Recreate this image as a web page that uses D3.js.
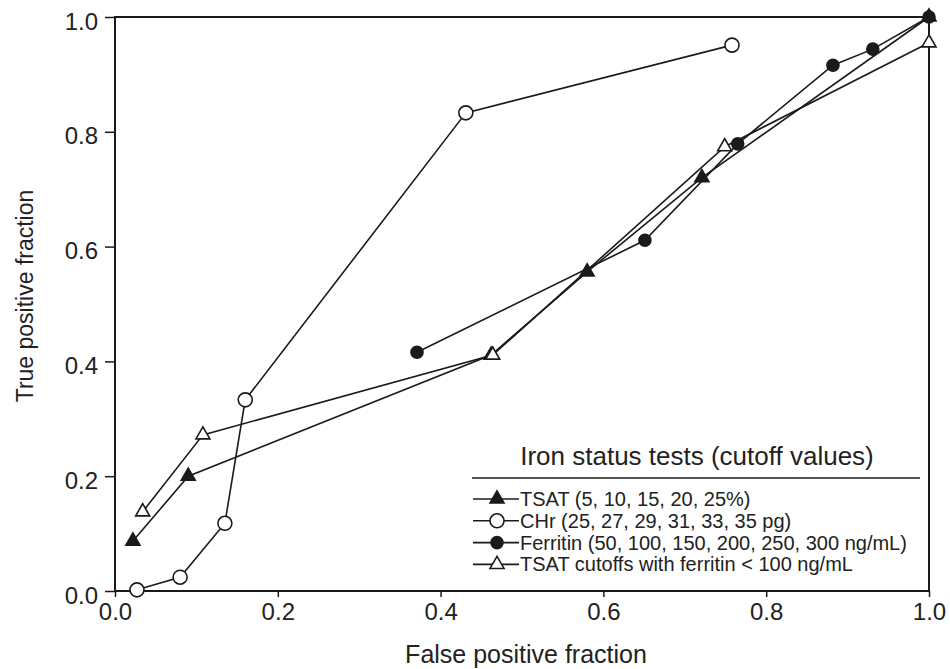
<!DOCTYPE html>
<html>
<head>
<meta charset="utf-8">
<script src="https://cdn.jsdelivr.net/npm/d3@7"></script>
<style>
  body { margin: 0; background: #fff; }
  svg { display: block; font-family: "Liberation Sans", Arial, sans-serif; }
  .tick text { fill: #222; }
</style>
</head>
<body>
<svg width="950" height="669"></svg>
<script>
// ROC points (false positive fraction, true positive fraction)
const tsatFpf = [0.022, 0.09, 0.462, 0.58, 0.721, 1.0];
const tsatTpf = [0.087, 0.2, 0.411, 0.556, 0.72, 1.0];
const chrFpf = [0.027, 0.08, 0.135, 0.16, 0.431, 0.758];
const chrTpf = [0.002, 0.024, 0.118, 0.333, 0.833, 0.951];
const ferritinFpf = [0.371, 0.651, 0.765, 0.882, 0.931, 1.0];
const ferritinTpf = [0.416, 0.611, 0.779, 0.916, 0.944, 1.0];
const tsatLowFerFpf = [0.034, 0.108, 0.464, 0.749, 1.0];
const tsatLowFerTpf = [0.138, 0.272, 0.411, 0.774, 0.955];

const seriesNames = [
  'TSAT (5, 10, 15, 20, 25%)',
  'CHr (25, 27, 29, 31, 33, 35 pg)',
  'Ferritin (50, 100, 150, 200, 250, 300 ng/mL)',
  'TSAT cutoffs with ferritin < 100 ng/mL'
];
const xTicks = [0, 0.2, 0.4, 0.6, 0.8, 1.0];
const yTicks = [0, 0.2, 0.4, 0.6, 0.8, 1.0];

(function (d3) {
  'use strict';

  const svg = d3.select('svg');
  const ink = '#1a1a1a';

  const xScale = d3.scaleLinear().domain([0, 1]).range([115, 929]);
  const yScale = d3.scaleLinear().domain([0, 1]).range([591, 17]);

  const zip = (xs, ys) => xs.map((x, i) => ({ x, y: ys[i] }));

  const series = [
    { name: seriesNames[0], marker: 'triangle', filled: true, points: zip(tsatFpf, tsatTpf) },
    { name: seriesNames[2], marker: 'circle', filled: true, points: zip(ferritinFpf, ferritinTpf) },
    { name: seriesNames[1], marker: 'circle', filled: false, points: zip(chrFpf, chrTpf) },
    { name: seriesNames[3], marker: 'triangle', filled: false, points: zip(tsatLowFerFpf, tsatLowFerTpf) }
  ];

  // frame
  svg.append('rect')
    .attr('x', xScale(0))
    .attr('y', yScale(1))
    .attr('width', xScale(1) - xScale(0))
    .attr('height', yScale(0) - yScale(1))
    .attr('fill', 'none')
    .attr('stroke', ink)
    .attr('stroke-width', 2);

  const xAxis = d3.axisBottom(xScale)
    .tickValues(xTicks)
    .tickFormat(d3.format('.1f'))
    .tickSize(6)
    .tickPadding(6);

  const yAxis = d3.axisLeft(yScale)
    .tickValues(yTicks)
    .tickFormat(d3.format('.1f'))
    .tickSize(10)
    .tickPadding(7);

  const xAxisG = svg.append('g')
    .attr('transform', `translate(0,${yScale(0)})`)
    .call(xAxis);
  xAxisG.select('.domain').remove();
  xAxisG.selectAll('.tick line').attr('stroke', ink).attr('stroke-width', 1.5);
  xAxisG.selectAll('.tick text')
    .attr('font-size', 24)
    .attr('font-family', '"Liberation Sans", Arial, sans-serif');

  const yAxisG = svg.append('g')
    .attr('transform', `translate(${xScale(0)},0)`)
    .call(yAxis);
  yAxisG.select('.domain').remove();
  yAxisG.selectAll('.tick line').attr('stroke', ink).attr('stroke-width', 1.5);
  yAxisG.selectAll('.tick text')
    .attr('font-size', 24)
    .attr('dy', '0.5em')
    .attr('font-family', '"Liberation Sans", Arial, sans-serif');

  svg.append('text')
    .attr('x', 526)
    .attr('y', 663)
    .attr('text-anchor', 'middle')
    .attr('font-size', 25)
    .attr('fill', '#222')
    .text('False positive fraction');

  svg.append('text')
    .attr('transform', 'translate(33,296) rotate(-90)')
    .attr('text-anchor', 'middle')
    .attr('font-size', 23)
    .attr('fill', '#222')
    .text('True positive fraction');

  const line = d3.line()
    .x(d => xScale(d.x))
    .y(d => yScale(d.y));

  const triangle = d3.symbol().type(d3.symbolTriangle).size(85);

  const drawMarker = (g, s) => {
    if (s.marker === 'circle') {
      g.append('circle')
        .attr('r', s.filled ? 6 : 7)
        .attr('fill', s.filled ? ink : '#fff')
        .attr('stroke', ink)
        .attr('stroke-width', 1.6);
    } else {
      g.append('path')
        .attr('d', triangle())
        .attr('fill', s.filled ? ink : '#fff')
        .attr('stroke', ink)
        .attr('stroke-width', 1.6);
    }
  };

  series.forEach(s => {
    const g = svg.append('g');
    g.append('path')
      .datum(s.points)
      .attr('d', line)
      .attr('fill', 'none')
      .attr('stroke', ink)
      .attr('stroke-width', 1.6);
    g.selectAll('g.pt').data(s.points)
      .enter().append('g')
        .attr('class', 'pt')
        .attr('transform', d => `translate(${xScale(d.x)},${yScale(d.y)})`)
        .each(function () { drawMarker(d3.select(this), s); });
  });

  // legend
  const legend = svg.append('g');
  legend.append('text')
    .attr('x', 697)
    .attr('y', 465)
    .attr('text-anchor', 'middle')
    .attr('font-size', 26)
    .attr('fill', '#222')
    .text('Iron status tests (cutoff values)');
  legend.append('line')
    .attr('x1', 472).attr('x2', 920)
    .attr('y1', 478).attr('y2', 478)
    .attr('stroke', ink)
    .attr('stroke-width', 1.6);

  const legendOrder = [series[0], series[2], series[1], series[3]];
  const rows = legend.selectAll('g.row').data(legendOrder)
    .enter().append('g')
      .attr('class', 'row')
      .attr('transform', (d, i) => `translate(0,${506 + i * 21.8})`);
  rows.append('line')
    .attr('x1', 473).attr('x2', 519)
    .attr('y1', -7).attr('y2', -7)
    .attr('stroke', ink)
    .attr('stroke-width', 1.6);
  rows.append('g')
    .attr('transform', 'translate(497,-7)')
    .each(function (d) { drawMarker(d3.select(this), d); });
  rows.append('text')
    .attr('x', 520)
    .attr('font-size', 20)
    .attr('fill', '#222')
    .text(d => d.name);

}(d3));
</script>
</body>
</html>
